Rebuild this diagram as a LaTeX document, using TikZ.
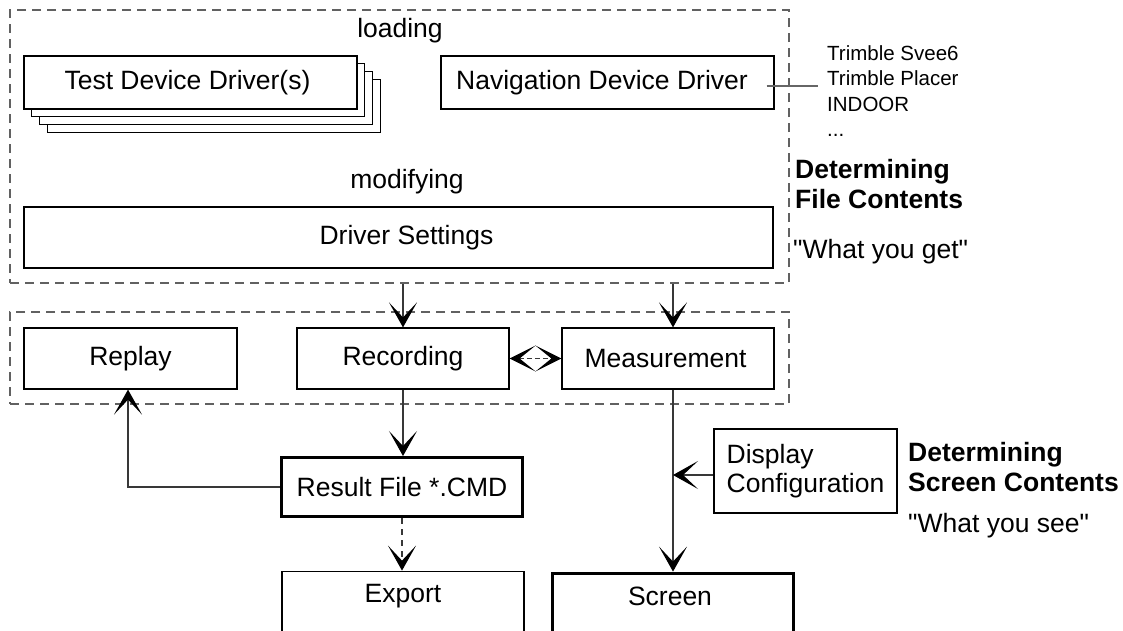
\documentclass[tikz,border=0pt]{standalone}
\usepackage{fontspec}
\setmainfont{Liberation Sans}[Ligatures=TeXOff]
\usetikzlibrary{arrows.meta,calc}
\newcommand\bigf{\fontsize{26.5}{28.5}\selectfont}
\newcommand\bigsp{\fontsize{26.5}{30}\selectfont}
\newcommand\smallf{\fontsize{20.5}{25.5}\selectfont}
\begin{document}
\begin{tikzpicture}[x=1pt,y=-1pt,
  box/.style={draw=black, line width=1.2pt, fill=white, inner sep=0pt, font=\bigf},
  thickbox/.style={box, line width=3.3pt},
  grp/.style={draw=black!62, line width=1.3pt, dash pattern=on 9pt off 6pt, inner sep=0pt},
  conn/.style={draw=black!78, line width=1.2pt},
  tip/.tip={Stealth[length=25pt,width=28pt,inset=15pt,color=black]},
  arr/.style={conn, -tip},
  lbl/.style={inner sep=0pt, font=\bigf}]
\useasboundingbox (0,0) rectangle (1123,630);
\clip (0,0) rectangle (1123,630);
\fill[white] (0,0) rectangle (1123,630);

% groups
\node[grp, minimum width=779pt, minimum height=273pt] (topgrp) at (399.5,146.5) {};
\node[grp, minimum width=779pt, minimum height=92pt] (botgrp) at (399.5,358) {};

% top group
\node[lbl, anchor=base] (loading) at (400,37) {loading};
\node[box, minimum width=333pt, minimum height=53pt] (td3) at (213.6,105.6) {};
\node[box, minimum width=333pt, minimum height=53pt] (td2) at (205.9,97.9) {};
\node[box, minimum width=333pt, minimum height=53pt] (td1) at (198.2,90.2) {};
\node[box, minimum width=333pt, minimum height=53pt] (td) at (190.5,82.5) {Test Device Driver(s)\hspace*{6pt}};
\node[box, minimum width=333pt, minimum height=53pt] (nav) at (607.5,82.5) {Navigation Device Driver\hspace*{11pt}};
\node[lbl, anchor=base] (modifying) at (407,188) {modifying};
\node[box, minimum width=749pt, minimum height=61pt] (drv) at (398.5,237.5) {\hspace*{16pt}Driver Settings};

% navigation list
\node[inner sep=0pt, font=\smallf, align=left, anchor=north west] (trimble) at (827,45.3)
  {Trimble Svee6\\Trimble Placer\\INDOOR\\...};
\coordinate (navend) at (818,86);
\draw[draw=black!60, line width=1.2pt] ([xshift=-8pt,yshift=-3.5pt]nav.east) -- (navend);

% right labels
\node[inner sep=0pt, font=\bigsp\bfseries, align=left, anchor=north west] (detfile) at (795,159)
  {Determining\\File Contents};
\node[lbl, anchor=base west] (get) at (793,258.5) {"What you get"};

% bottom group
\node[box, minimum width=213pt, minimum height=61pt] (replay) at (130.5,358.5) {Replay};
\node[box, minimum width=212pt, minimum height=61pt] (rec) at (403,358.5) {Recording};
\node[box, minimum width=212pt, minimum height=61pt] (meas) at (668,358.5) {Measurement\hspace*{5pt}};
\coordinate (mx) at (673,0);

% lower boxes
\node[thickbox, minimum width=240.7pt, minimum height=58.7pt] (res) at (402,487) {Result File *.CMD};
\node[box, minimum width=242pt, minimum height=110pt, anchor=north] (expbox) at (403,570.6) {};
\node[lbl] (exp) at (403,596) {Export};
\node[thickbox, minimum width=240.7pt, minimum height=110pt, anchor=north] (scrbox) at (673,571.6) {};
\node[lbl] (scr) at (670,596) {Screen};
\node[box, minimum width=183pt, minimum height=84pt, align=left] (disp) at (805.5,471) {Display\\Configuration};
\node[inner sep=0pt, font=\bigsp\bfseries, align=left, anchor=north west] (detscr) at (908,442)
  {Determining\\Screen Contents};
\node[lbl, anchor=base west] (see) at (908,532.5) {"What you see"};

% connectors
\draw[arr] (topgrp.south -| rec.north) -- (rec.north);
\draw[arr] (topgrp.south -| mx) -- (meas.north -| mx);
\draw[conn, dash pattern=on 5pt off 3pt, {Stealth[length=26pt,width=26pt,inset=16pt,color=black]}-{Stealth[length=26pt,width=26pt,inset=16pt,color=black]}] (rec.east) -- (meas.west);
\draw[arr] (rec.south) -- (res.north -| rec.south);
\draw[arr] (res.west) -| ([xshift=-2.5pt]replay.south);
\draw[arr, dash pattern=on 6pt off 5pt] (res.south) -- (res.south |- expbox.north);
\draw[arr] (meas.south -| mx) -- (scrbox.north);
\draw[arr] ([yshift=-4pt]disp.west) -- ([yshift=-4pt]disp.west -| mx);
\end{tikzpicture}
\end{document}
